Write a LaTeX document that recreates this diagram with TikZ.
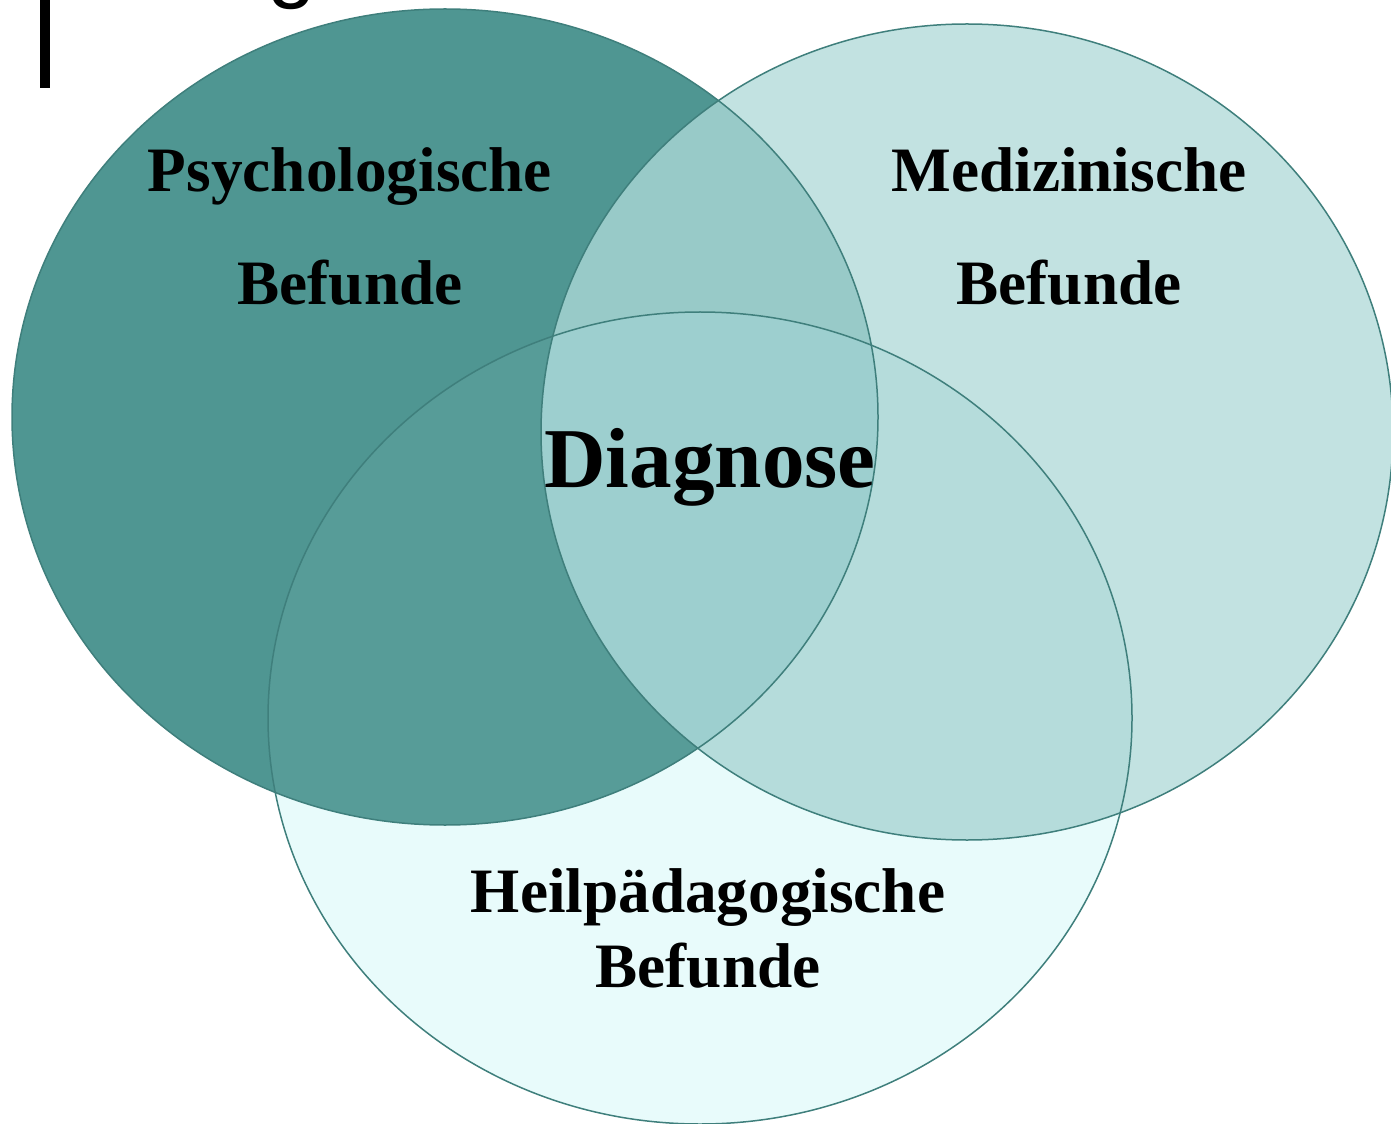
\documentclass[tikz,border=0pt]{standalone}
\usepackage{fontspec}
\setmainfont{Liberation Serif}
\newfontfamily\titlesans{Liberation Sans}
\definecolor{cpsy}{HTML}{4F9692}
\definecolor{cmed}{HTML}{C2E2E1}
\definecolor{cheil}{HTML}{E8FBFB}
\definecolor{cpm}{HTML}{98CAC8}
\definecolor{cph}{HTML}{579C98}
\definecolor{cmh}{HTML}{B5DCDB}
\definecolor{cpmh}{HTML}{9DCFCF}
\definecolor{cline}{HTML}{3F7F7C}
\tikzset{
  psyshape/.style={x radius=433, y radius=408},
  medshape/.style={x radius=426, y radius=408},
  heilshape/.style={x radius=432, y radius=406},
  outline/.style={draw=cline, line width=0.03cm},
  label/.style={font=\bfseries\fontsize{36}{43}\selectfont, anchor=base, inner sep=0pt},
  biglabel/.style={font=\bfseries\fontsize{48.5}{58}\selectfont, anchor=base, inner sep=0pt}
}
\begin{document}
\begin{tikzpicture}[x=0.02cm, y=-0.02cm]
\useasboundingbox (0,0) rectangle (1391,1124);
\clip (0,0) rectangle (1391,1124);
\coordinate (P) at (445,417);
\coordinate (M) at (967,432);
\coordinate (H) at (700,718);
% cut-off title fragments
\fill[black] (40,0) rectangle (50,88);
\node[anchor=base, inner sep=0pt, font=\titlesans\fontsize{50}{60}\selectfont] (tg) at (292,-8) {g};
% fills
\fill[cpsy] (P) ellipse [psyshape];
\fill[cmed] (M) ellipse [medshape];
\fill[cheil] (H) ellipse [heilshape];
\begin{scope}
  \clip (P) ellipse [psyshape];
  \fill[cpm] (M) ellipse [medshape];
\end{scope}
\begin{scope}
  \clip (P) ellipse [psyshape];
  \fill[cph] (H) ellipse [heilshape];
\end{scope}
\begin{scope}
  \clip (M) ellipse [medshape];
  \fill[cmh] (H) ellipse [heilshape];
\end{scope}
\begin{scope}
  \clip (P) ellipse [psyshape];
  \clip (M) ellipse [medshape];
  \fill[cpmh] (H) ellipse [heilshape];
\end{scope}
% outlines
\draw[outline] (P) ellipse [psyshape];
\draw[outline] (M) ellipse [medshape];
\draw[outline] (H) ellipse [heilshape];
% labels
\node[label] (psy1) at (350,192) {Psychologische};
\node[label] (psy2) at (350,305) {Befunde};
\node[label] (med1) at (1069,192) {Medizinische};
\node[label] (med2) at (1069,305) {Befunde};
\node[biglabel] (diag) at (710,487) {Diagnose};
\node[label] (heil1) at (708,912) {Heilpädagogische};
\node[label] (heil2) at (708,987) {Befunde};
\end{tikzpicture}
\end{document}
